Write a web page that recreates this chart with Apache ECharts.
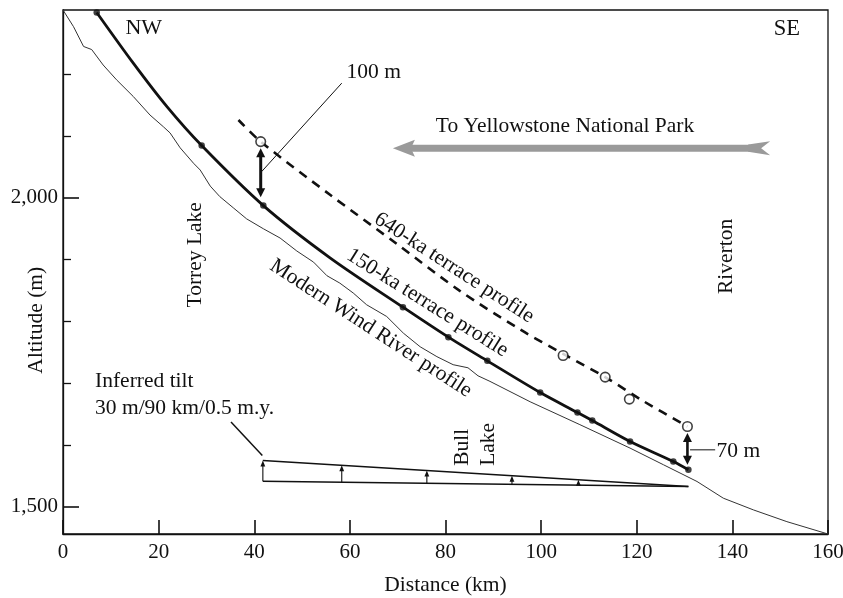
<!DOCTYPE html>
<html><head><meta charset="utf-8">
<script src="https://cdn.jsdelivr.net/npm/echarts@6/dist/echarts.min.js"></script>
<style>html,body{margin:0;padding:0;background:#fff}#c{width:843px;height:598px}</style>
</head><body><div id="c"></div>
<script>
// ---------- data ----------
const xMin = 0, xMax = 160, xStep = 20;
const yMin = 1456, yMax = 2304;
const yMajorTicks = [1500, 2000];
const yMajorLabels = ['1,500', '2,000'];
const yMinorTicks = [1600, 1700, 1800, 1900, 2100, 2200];

// Modern Wind River profile (km, m)
const modernKm  = [0, 2.2, 4.3, 6.0, 8.4, 11.2, 14.7, 18.2, 21.0, 22.4, 24.5, 27.3, 28.7, 30.8, 32.8, 35.6, 38.4, 41.9, 45.4, 48.9, 52.4, 55.2, 57.9, 60.7, 63.5, 67.7, 71.2, 74.7, 78.2, 81.6, 84.7, 86.8, 89.3, 97.7, 108.1, 118.6, 125.6, 132.6, 138.1, 144.4, 151.4, 160];
const modernAlt = [2304, 2277, 2245, 2240, 2215, 2191, 2164, 2134, 2115, 2105, 2081, 2056, 2045, 2019, 2002, 1984, 1966, 1950, 1935, 1914, 1896, 1874, 1862, 1846, 1827, 1808, 1781, 1759, 1743, 1730, 1725, 1712, 1703, 1670, 1633, 1595, 1568, 1541, 1514, 1495, 1476, 1456];

// 150-ka terrace profile: traced line and measured points
const t150LineKm  = [7.05, 14.7, 21.7, 29.0, 41.9, 55.85, 71.1, 80.6, 88.75, 99.8, 107.6, 110.7, 118.6, 127.65, 130.8];
const t150LineAlt = [2300, 2218, 2148, 2084.6, 1987.5, 1903, 1823.1, 1774.6, 1736.2, 1684.9, 1652.6, 1639.6, 1605.7, 1573.3, 1559.9];
const t150PtKm  = [7.05, 29.0, 41.9, 71.1, 80.6, 88.75, 99.8, 107.6, 110.7, 118.6, 127.65, 130.8];
const t150PtAlt = [2300, 2084.6, 1987.5, 1823.1, 1774.6, 1736.2, 1684.9, 1652.6, 1639.6, 1605.7, 1573.3, 1559.9];

// 640-ka terrace profile: dashed trend line and measured points
const t640LineKm  = [36.7, 41.35, 55.85, 69.8, 83.0, 95.6, 104.6, 113.4, 121.4, 130.6];
const t640LineAlt = [2126, 2091, 2005, 1925.6, 1849.5, 1787, 1747.6, 1709.9, 1671, 1629.9];
const t640PtKm  = [41.35, 104.6, 113.4, 118.45, 130.6];
const t640PtAlt = [2091, 1744.8, 1709.9, 1674.3, 1629.9];

// ---------- chart ----------
const INK = '#111';
const FONT = '"Liberation Serif", "Times New Roman", serif';
const TXT = 21.5;
const zip = (a, b) => a.map((v, i) => [v, b[i]]);

const option = {
  animation: false,
  backgroundColor: '#fff',
  grid: {left: 63, right: 15, top: 10, bottom: 64, containLabel: false, outerBoundsMode: 'none', show: true,
         borderColor: INK, borderWidth: 1.3, backgroundColor: 'transparent'},
  xAxis: {
    type: 'value', min: xMin, max: xMax, interval: xStep,
    axisLine: {show: true, onZero: false, lineStyle: {color: INK, width: 1.3}},
    axisTick: {show: true, inside: true, length: 14, lineStyle: {color: INK, width: 1.6}},
    axisLabel: {color: INK, fontSize: 21, fontFamily: FONT, margin: 8},
    splitLine: {show: false},
    name: 'Distance (km)', nameLocation: 'middle', nameGap: 40,
    nameTextStyle: {color: INK, fontSize: TXT, fontFamily: FONT}
  },
  yAxis: [
    {
      type: 'value', min: yMin, max: yMax,
      axisLine: {show: true, onZero: false, lineStyle: {color: INK, width: 1.3}},
      axisTick: {show: true, inside: true, length: 16, customValues: yMajorTicks, lineStyle: {color: INK, width: 1.6}},
      axisLabel: {customValues: yMajorTicks, formatter: v => yMajorLabels[yMajorTicks.indexOf(v)] || '',
                  color: INK, fontSize: 21, fontFamily: FONT, margin: 5},
      splitLine: {show: false}
    },
    {
      type: 'value', min: yMin, max: yMax, position: 'left',
      axisLine: {show: false},
      axisTick: {show: true, inside: true, length: 8, customValues: yMinorTicks, lineStyle: {color: INK, width: 1.3}},
      axisLabel: {show: false},
      splitLine: {show: false}
    }
  ],
  series: [
    {name: 'Modern Wind River profile', type: 'line', data: zip(modernKm, modernAlt),
     showSymbol: false, lineStyle: {color: '#333', width: 1}, z: 2},
    {name: '150-ka line', type: 'line', data: zip(t150LineKm, t150LineAlt), smooth: 0.3,
     showSymbol: false, lineStyle: {color: INK, width: 2.8}, z: 3},
    {name: '150-ka points', type: 'scatter', data: zip(t150PtKm, t150PtAlt),
     symbol: 'circle', symbolSize: 6.5, itemStyle: {color: INK}, z: 4},
    {name: '640-ka line', type: 'line', data: zip(t640LineKm, t640LineAlt), smooth: 0.3,
     showSymbol: false, lineStyle: {color: INK, width: 2.6, type: [9, 7]}, z: 3},
    {name: '640-ka points', type: 'scatter', data: zip(t640PtKm, t640PtAlt),
     symbol: 'circle', symbolSize: 9.5, itemStyle: {color: '#fff', borderColor: INK, borderWidth: 1.6}, z: 5}
  ]
};

const chart = echarts.init(document.getElementById('c'));
chart.setOption(option);

// ---------- annotations (placed in data coordinates) ----------
const P = (km, alt) => chart.convertToPixel({xAxisIndex: 0, yAxisIndex: 0}, [km, alt]);
const g = [];
function seg(a, b, w, color) {
  g.push({type: 'line', z: 50, shape: {x1: a[0], y1: a[1], x2: b[0], y2: b[1]},
          style: {stroke: color || INK, lineWidth: w}});
}
function head(tip, from, len, hw, color) {
  const dx = tip[0] - from[0], dy = tip[1] - from[1], L = Math.hypot(dx, dy);
  const ux = dx / L, uy = dy / L, bx = tip[0] - ux * len, by = tip[1] - uy * len;
  g.push({type: 'polygon', z: 51, shape: {points: [[tip[0], tip[1]], [bx - uy * hw, by + ux * hw], [bx + uy * hw, by - ux * hw]]},
          style: {fill: color || INK}});
}
function arrow(a, b, w, len, hw, both) {
  const dx = b[0] - a[0], dy = b[1] - a[1], L = Math.hypot(dx, dy), ux = dx / L, uy = dy / L;
  const s = both ? [a[0] + ux * len * 0.7, a[1] + uy * len * 0.7] : a;
  const e = [b[0] - ux * len * 0.7, b[1] - uy * len * 0.7];
  seg(s, e, w);
  head(b, a, len, hw);
  if (both) head(a, b, len, hw);
}
function text(str, p, o) {
  o = o || {};
  g.push({type: 'text', z: 60, x: p[0], y: p[1], rotation: o.rot || 0,
          style: {text: str, fontSize: o.size || TXT, fontFamily: FONT, fill: o.color || INK,
                  align: o.align || 'center', verticalAlign: 'middle', lineHeight: o.lh || 25}});
}
const deg = Math.PI / 180;

// corner labels
text('NW', P(16.9, 2275), {size: 22});
text('SE', P(151.4, 2273.5), {size: 22.5});

// Yellowstone arrow
text('To Yellowstone National Park', P(105.0, 2116.5));
const tip = P(69.0, 2080.4), tail = P(147.9, 2080.4);
const GRAY = '#9a9a9a';
seg([tip[0] + 16, tip[1]], [tail[0] - 20, tail[1]], 7, GRAY);
g.push({type: 'polygon', z: 50, shape: {points: [[tip[0], tip[1]], [tip[0] + 22, tip[1] - 8.5], [tip[0] + 18, tip[1]], [tip[0] + 22, tip[1] + 8.5]]}, style: {fill: GRAY}});
g.push({type: 'polygon', z: 50, shape: {points: [[tail[0] - 22, tail[1] - 3.6], [tail[0], tail[1] - 7], [tail[0] - 9, tail[1]], [tail[0], tail[1] + 7], [tail[0] - 22, tail[1] + 3.6]]}, style: {fill: GRAY}});

// 100 m offset
text('100 m', P(59.3, 2202.3), {align: 'left'});
seg(P(58.3, 2185.6), P(41.56, 2042.6), 1);
arrow(P(41.35, 2080.4), P(41.35, 2001.1), 3, 9, 4.5, true);

// 70 m offset
arrow(P(130.6, 1619.3), P(130.6, 1568.0), 2.6, 9, 4.5, true);
seg(P(131.15, 1592.2), P(136.4, 1592.2), 1);
text('70 m', P(136.7, 1589.5), {align: 'left'});

// place names
text('Torrey Lake', P(27.6, 1907.8), {rot: 90 * deg});
text('Riverton', P(138.8, 1905.3), {rot: 90 * deg});
text('Bull\nLake', P(86.2, 1566.3), {rot: 90 * deg, align: 'left', lh: 26.5});

// profile labels along the curves
text('640-ka terrace profile', P(81.8, 1886.7), {rot: -33 * deg});
text('150-ka terrace profile', P(76.2, 1830), {rot: -32 * deg});
text('Modern Wind River profile', P(64.4, 1788.8), {rot: -33 * deg});

// inferred tilt wedge
text('Inferred tilt\n30 m/90 km/0.5 m.y.', P(6.7, 1681.2), {align: 'left', lh: 26.7});
seg(P(35.14, 1637.1), P(41.69, 1583.0), 1.5);
const wA = 41.8, wB = 130.8, wTop = 1575, wBot = 1541.5, wEnd = 1533;
const topAt = km => wTop + (wEnd - wTop) * (km - wA) / (wB - wA);
const botAt = km => wBot + (wEnd - wBot) * (km - wA) / (wB - wA);
seg(P(wA, wTop), P(wB, wEnd), 1.5);
seg(P(wA, wBot), P(wB, wEnd), 1.5);
[41.8, 58.3, 76.1, 93.9, 107.8].forEach(km => {
  arrow(P(km, botAt(km)), P(km, topAt(km)), 1.1, 6, 2.4, false);
});

// y-axis title
const yT = P(0, 1802);
text('Altitude (m)', [yT[0] - 27, yT[1]], {rot: 90 * deg});

chart.setOption({graphic: g});
</script></body></html>
